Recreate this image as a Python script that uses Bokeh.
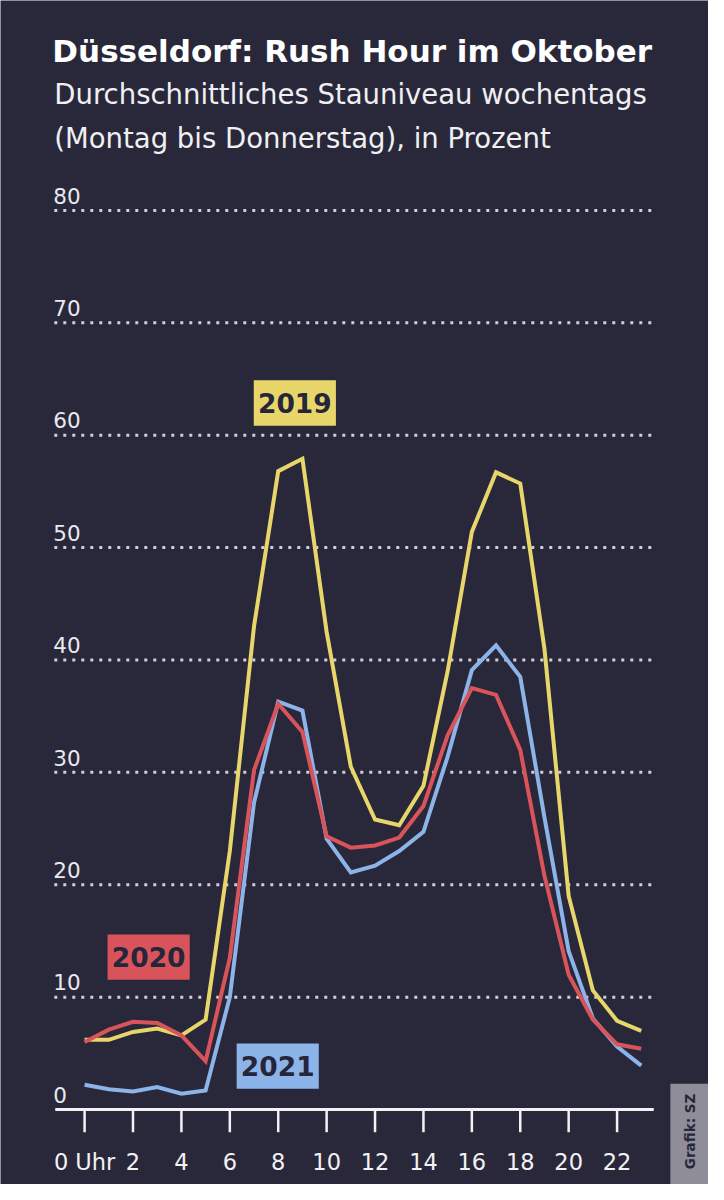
import math
from bokeh.plotting import figure
from bokeh.models import Range1d
from bokeh.core.properties import value
from bokeh.embed import file_html
from bokeh.resources import INLINE

# ---------------- data ----------------
hours = list(range(24))
stau_2019 = [6.2, 6.2, 6.9, 7.2, 6.6, 8.0, 23.0, 43.0, 56.8, 57.9, 42.5, 30.5,
             25.8, 25.3, 28.8, 39.0, 51.4, 56.7, 55.7, 41.0, 19.0, 10.6, 7.9, 7.0]
stau_2020 = [6.0, 7.1, 7.8, 7.7, 6.6, 4.3, 13.5, 30.2, 36.1, 33.6, 24.3, 23.3,
             23.5, 24.2, 27.0, 33.3, 37.5, 36.9, 32.0, 20.8, 12.0, 8.0, 5.8, 5.4]
stau_2021 = [2.2, 1.8, 1.6, 2.0, 1.4, 1.7, 10.0, 27.3, 36.3, 35.5, 24.1, 21.1,
             21.7, 23.0, 24.7, 31.4, 39.1, 41.3, 38.5, 26.0, 14.1, 8.1, 5.6, 3.9]
series_names = ["2019", "2020", "2021"]
y_ticks = [0, 10, 20, 30, 40, 50, 60, 70, 80]
x_ticks = [0, 2, 4, 6, 8, 10, 12, 14, 16, 18, 20, 22]
x_tick_labels = ["0 Uhr", "2", "4", "6", "8", "10", "12", "14", "16", "18", "20", "22"]

title = "Düsseldorf:  Rush Hour im Oktober"
subtitle = ["Durchschnittliches Stauniveau wochentags",
            "(Montag bis Donnerstag), in Prozent"]
credit = "Grafik: SZ"

# ---------------- style / layout ----------------
BG = "#29283a"
YELLOW = "#e8d66b"
RED = "#d9545a"
BLUE = "#8db4e8"
WHITE = "#f2f2f4"
GRID = "#cfcfd8"
DARK = "#26263a"
GREY_BOX = "#8e8d98"
FONT = value("DejaVu Sans")

W, H = 708, 1184
# layout designed on a 724 x 1200 grid; the canvas scales it
REF_W, REF_H = 724, 1200
PX_X, PX_Y = 24.75, 11.39      # design pixels per hour / per percent
ORIGIN_X, ORIGIN_Y = 86, 1124  # design pixel of hour 0 / 0 %


def rx(px):   # design x pixel -> data x (layout helper for annotations)
    return (px - ORIGIN_X) / PX_X


def ry(px):   # design y pixel (from top) -> data y
    return (ORIGIN_Y - px) / PX_Y


p = figure(width=W, height=H, output_backend="svg", toolbar_location=None,
           x_range=Range1d(rx(0), rx(REF_W)), y_range=Range1d(ry(REF_H), ry(0)),
           x_axis_location=None, y_axis_location=None,
           min_border=0, min_border_left=0, min_border_right=0,
           min_border_top=0, min_border_bottom=0,
           background_fill_color=BG, border_fill_color=BG, outline_line_color=None)
p.grid.grid_line_color = None

# dotted horizontal gridlines
gy = y_ticks[1:]
p.segment(x0=[rx(55)] * len(gy), x1=[rx(668)] * len(gy), y0=gy, y1=gy,
          line_color=GRID, line_width=3, line_dash="3 6")

# y tick labels above gridlines
p.text(x=[rx(54)] * len(y_ticks), y=[v + 15 / PX_Y for v in y_ticks],
       text=[str(v) for v in y_ticks], text_font=FONT, text_font_size="21.5px",
       text_color="#e9e9ee", text_align="left", text_baseline="alphabetic")

# x axis: line, ticks, labels
p.segment(x0=[rx(56)], x1=[rx(668)], y0=[0], y1=[0], line_color=WHITE, line_width=3)
p.segment(x0=x_ticks, x1=x_ticks, y0=[0] * len(x_ticks), y1=[-23 / PX_Y] * len(x_ticks),
          line_color=WHITE, line_width=2.5)
p.text(x=x_ticks, y=[ry(1177)] * len(x_ticks), text=x_tick_labels, text_font=FONT,
       text_font_size="22.5px", text_color=WHITE, text_align="center",
       text_baseline="alphabetic")

# lines
p.line(hours, stau_2019, line_color=YELLOW, line_width=4, line_join="miter")
p.line(hours, stau_2021, line_color=BLUE, line_width=4, line_join="miter")
p.line(hours, stau_2020, line_color=RED, line_width=4, line_join="miter")

# series labels
lab_x = [rx(301), rx(151.5), rx(283.5)]
lab_y = [ry(408), ry(969.5), ry(1080)]
p.rect(x=lab_x, y=lab_y, width=84 / PX_X, height=46 / PX_Y,
       fill_color=[YELLOW, RED, BLUE], line_color=None)
p.text(x=lab_x, y=lab_y, text=series_names, text_font=FONT, text_font_style="bold",
       text_font_size="26.5px", text_color=DARK, text_align="center", text_baseline="middle")

# title / subtitle
p.text(x=[rx(53)], y=[ry(51)], text=[title], text_font=FONT, text_font_style="bold",
       text_font_size="31px", text_color="#ffffff", text_align="left",
       text_baseline="alphabetic")
p.text(x=[rx(55), rx(55)], y=[ry(95), ry(139)], text=subtitle, text_font=FONT,
       text_font_size="27.5px", text_color="#f0f0f2", text_align="left",
       text_baseline="alphabetic")

# credit box at the lower right edge
p.rect(x=[rx(706)], y=[ry(1160)], width=42 / PX_X, height=124 / PX_Y,
       fill_color=GREY_BOX, line_color=None)
p.text(x=[rx(705)], y=[ry(1108)], text=[credit], angle=math.pi / 2,
       text_font=FONT, text_font_style="bold", text_font_size="13.5px",
       text_color=DARK, text_align="right", text_baseline="middle")

open("out.html", "w").write(file_html(p, INLINE))
